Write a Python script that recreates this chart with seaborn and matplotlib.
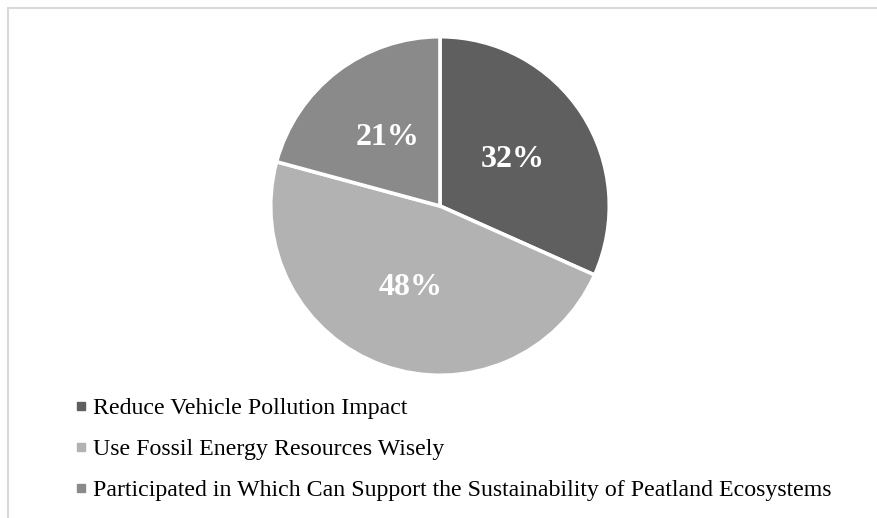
import matplotlib
matplotlib.use("Agg")
import matplotlib.pyplot as plt
from matplotlib.lines import Line2D
from matplotlib.patches import Rectangle
import seaborn as sns

# Survey shares (percent) per awareness category
categories = [
    "Reduce Vehicle Pollution Impact",
    "Use Fossil Energy Resources Wisely",
    "Participated in Which Can Support the Sustainability of Peatland Ecosystems",
]
shares = [32, 48, 21]
slice_colors = ["#5f5f5f", "#b2b2b2", "#8a8a8a"]

sns.set_theme(style="white")
plt.rcParams["font.family"] = ["Liberation Serif", "DejaVu Serif"]

W, H = 878, 518
fig = plt.figure(figsize=(W / 100, H / 100), dpi=100)
fig.patch.set_facecolor("white")

# light frame around the chart area
fig.patches.append(Rectangle((8 / W, -0.1), 1.2, (H - 8) / H + 0.1,
                             transform=fig.transFigure, fill=False,
                             edgecolor="#d9d9d9", linewidth=1.5))

cx, cy, r = 440, 206, 171
ax = fig.add_axes([(cx - r) / W, (H - cy - r) / H, 2 * r / W, 2 * r / H])
wedges, _, autotexts = ax.pie(
    shares, colors=slice_colors, startangle=90, counterclock=False,
    autopct=lambda p: f"{p * sum(shares) / 100:.0f}%", pctdistance=0.51,
    wedgeprops=dict(edgecolor="white", linewidth=2.6),
    textprops=dict(color="white", fontsize=23, fontweight="bold"),
)
ax.set_xlim(-1.01, 1.01)
ax.set_ylim(-1.01, 1.01)
ax.set_aspect("equal")

handles = [Line2D([], [], marker="s", linestyle="none", markersize=5.5,
                  markerfacecolor=c, markeredgecolor=c) for c in slice_colors]
fig.legend(handles, categories, loc="upper left",
           bbox_to_anchor=(64 / W, 1 - 388 / H), frameon=False,
           fontsize=17.2, handlelength=0.6, handletextpad=0.2,
           labelspacing=0.8, borderaxespad=0, labelcolor="#000000")

fig.savefig("out.png", dpi=100, facecolor="white")
